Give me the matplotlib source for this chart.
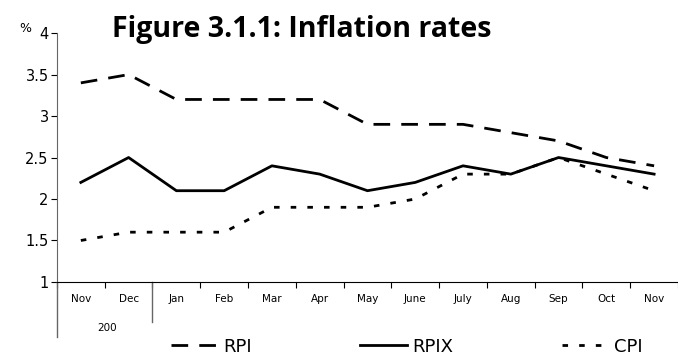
import numpy as np
import matplotlib.pyplot as plt

# monthly inflation rates, Nov 2003 - Nov 2004
months = ['Nov', 'Dec', 'Jan', 'Feb', 'Mar', 'Apr', 'May', 'June',
          'July', 'Aug', 'Sep', 'Oct', 'Nov']
rpi = [3.4, 3.5, 3.2, 3.2, 3.2, 3.2, 2.9, 2.9, 2.9, 2.8, 2.7, 2.5, 2.4]
rpix = [2.2, 2.5, 2.1, 2.1, 2.4, 2.3, 2.1, 2.2, 2.4, 2.3, 2.5, 2.4, 2.3]
cpi = [1.5, 1.6, 1.6, 1.6, 1.9, 1.9, 1.9, 2.0, 2.3, 2.3, 2.5, 2.3, 2.1]
yticks = [1, 1.5, 2, 2.5, 3, 3.5, 4]
ytick_labels = ['1', '1.5', '2', '2.5', '3', '3.5', '4']

fig = plt.figure(figsize=(6.78, 3.56), dpi=100)
ax = fig.add_axes([0.084, 0.208, 0.916, 0.699])

x = np.arange(len(months))
l1, = ax.plot(x, rpi, color='black', lw=2, dashes=(6, 4))
l2, = ax.plot(x, rpix, color='black', lw=2)
l3, = ax.plot(x, cpi, color='black', lw=2, dashes=(2, 4))

ax.set_xlim(-0.5, len(months) - 0.5)
ax.set_ylim(1, 4)
ax.set_yticks(yticks)
ax.set_yticklabels(ytick_labels, fontsize=10.5)

# ticks at category boundaries, labels at centres
ax.set_xticks(np.arange(-0.5, len(months), 1))
ax.set_xticklabels([])
ax.set_xticks(x, minor=True)
ax.set_xticklabels(months, minor=True, fontsize=7.5)
ax.tick_params(axis='x', which='minor', length=0, pad=9)
ax.tick_params(axis='x', which='major', length=4, direction='out')
ax.tick_params(axis='y', length=4, direction='out', pad=2)

for s in ['top', 'right']:
    ax.spines[s].set_visible(False)
ax.spines['left'].set_color('0.4')
ax.spines['bottom'].set_color('black')

# year divider and left extension
ax.plot([-0.5, -0.5], [1, 0.34], color='0.4', lw=1, clip_on=False)
ax.plot([1.5, 1.5], [1, 0.52], color='0.4', lw=1, clip_on=False)
ax.text(0.55, 0.45, '200', fontsize=7.5, ha='center', va='center',
        clip_on=False)

fig.text(0.029, 0.92, '%', fontsize=9, ha='left', va='center')
fig.text(0.165, 0.896, 'Figure 3.1.1: Inflation rates', fontsize=20.5,
         fontweight='bold', family='Open Sans', ha='left', va='baseline')

fig.legend([l1, l2, l3], ['RPI', 'RPIX', 'CPI'], loc='lower left',
           bbox_to_anchor=(0.228, -0.045), ncol=3, frameon=False,
           handlelength=2.6, columnspacing=6.0, handletextpad=0.3,
           prop={'size': 13})

fig.savefig('out.png', dpi=100)
